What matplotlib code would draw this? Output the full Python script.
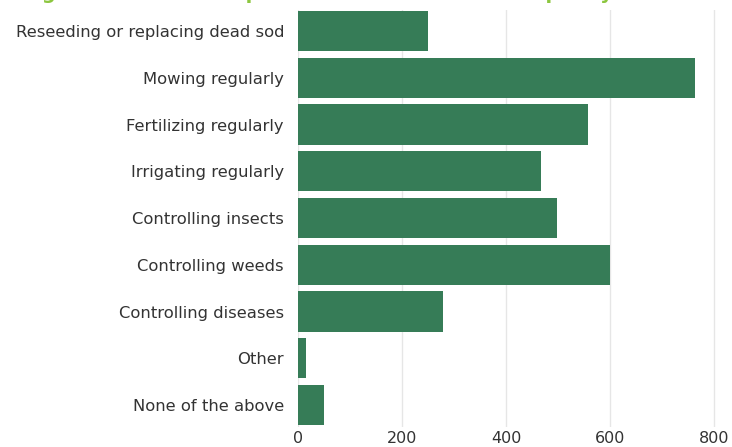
import numpy as np
import matplotlib.pyplot as plt

categories = ["Reseeding or replacing dead sod", "Mowing regularly", "Fertilizing regularly",
              "Irrigating regularly", "Controlling insects", "Controlling weeds",
              "Controlling diseases", "Other", "None of the above"]
counts = [250, 762, 558, 467, 498, 600, 279, 15, 50]
xticks = [0, 200, 400, 600, 800]

plt.rcParams['font.family'] = ['DejaVu Sans']

fig = plt.figure(figsize=(7.32, 4.47), dpi=100)
ax = fig.add_axes([298/732, (447-427)/447, (732-298)/732, (427-10)/447])

y = np.arange(len(categories))
ax.barh(y, counts, height=0.86, color='#367c57', zorder=3)

ax.set_xlim(0, 834)
ax.set_ylim(8.47, -0.45)
ax.set_yticks(y)
ax.set_yticklabels(categories, fontsize=11.8, color='#333333')
ax.set_xticks(xticks)
ax.set_xticklabels([str(v) for v in xticks], fontsize=11.5, color='#333333')
ax.tick_params(length=0, pad=10)
ax.tick_params(axis='x', pad=3)
ax.grid(axis='x', color='#e6e6e6', linewidth=1, zorder=0)
for s in ax.spines.values():
    s.set_visible(False)

# title clipped off at the top of the image
fig.text(0.03, 1.014, "Figure 3. Lawn care practices conducted in the past year",
         fontsize=14, fontweight='bold', color='#8cc63f', va='center')

fig.savefig("out.png", dpi=100)
